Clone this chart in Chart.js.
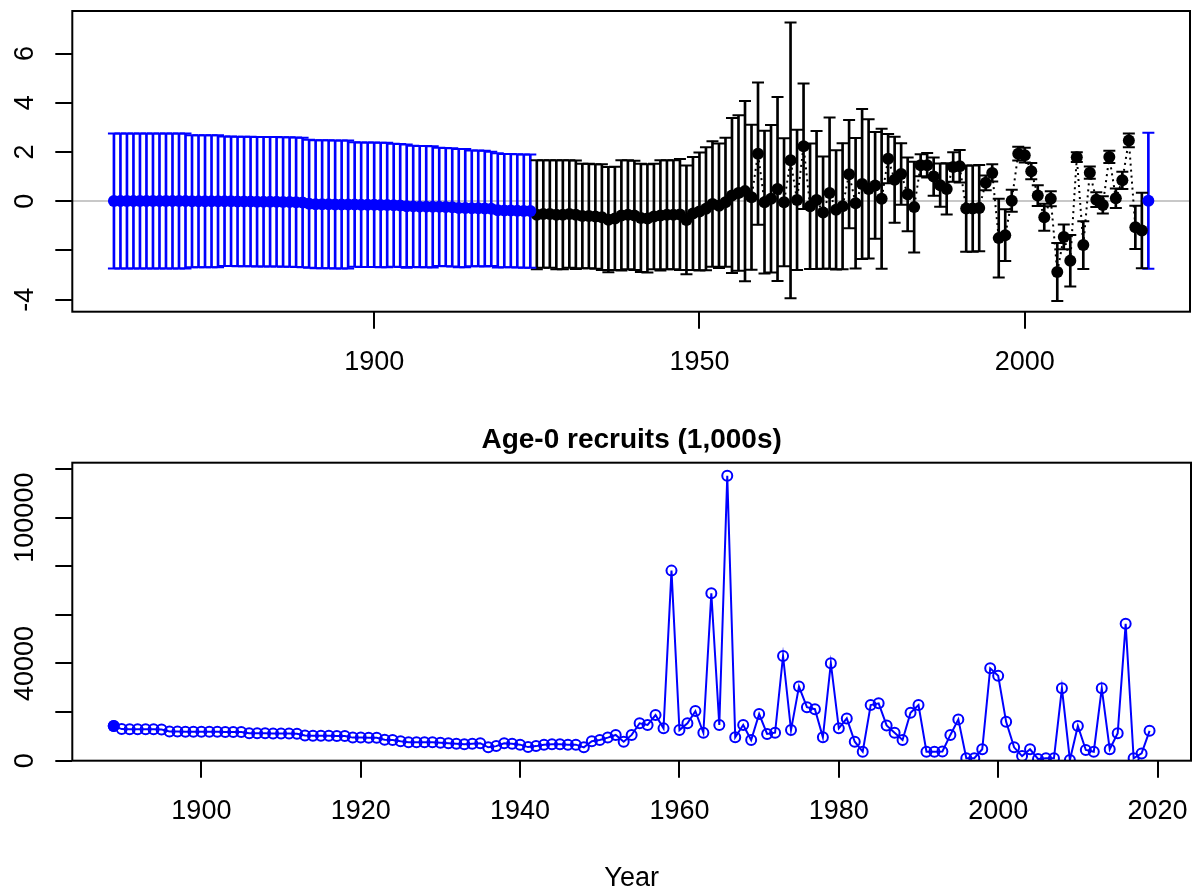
<!DOCTYPE html>
<html>
<head>
<meta charset="utf-8">
<title>Recruitment deviations and age-0 recruits</title>
<script src="https://cdn.jsdelivr.net/npm/chart.js@4.4.1/dist/chart.umd.min.js"></script>
<style>
  html, body { margin: 0; padding: 0; background: #fff; }
  #wrap { position: relative; width: 1198px; height: 892px; }
  #devChart { position: absolute; left: 0; top: 0; }
  #recChart { position: absolute; left: 0; top: 420px; }
</style>
</head>
<body>
<div id="wrap">
  <canvas id="devChart" width="1198" height="420"></canvas>
  <canvas id="recChart" width="1198" height="472"></canvas>
</div>
<script>
// recruitment deviations (top panel)
var earlyFirstYear = 1860;
var earlyDev = [0.01, 0.01, 0.01, 0.01, 0.01, 0.01, 0.01, 0.01, 0.01, 0.01, 0.01, 0.01, 0.0, 0.0, 0.0, 0.0,
  0.0, 0.0, 0.0, -0.01, -0.01, -0.01, -0.02, -0.02, -0.02, -0.02, -0.03, -0.03, -0.04, -0.05,
  -0.1, -0.12, -0.12, -0.12, -0.13, -0.13, -0.13, -0.13, -0.14, -0.14, -0.14, -0.15, -0.15, -0.16, -0.17,
  -0.2, -0.21, -0.22, -0.22, -0.23, -0.23, -0.24, -0.25,
  -0.28, -0.28, -0.29, -0.29, -0.3, -0.31,
  -0.37, -0.38, -0.38, -0.39, -0.4, -0.4];
var earlyHalf = [2.74, 2.74, 2.74, 2.74, 2.74, 2.74, 2.74, 2.74, 2.74, 2.74, 2.74, 2.74,
  2.68, 2.68, 2.68, 2.68, 2.68,
  2.63, 2.63, 2.63, 2.63, 2.63, 2.63, 2.63, 2.63, 2.63, 2.63, 2.63, 2.63, 2.63,
  2.6, 2.6, 2.6, 2.6, 2.6, 2.6, 2.6,
  2.53, 2.53, 2.53, 2.53, 2.53, 2.53,
  2.5, 2.5, 2.5,
  2.46, 2.46, 2.46, 2.46,
  2.4, 2.4, 2.4, 2.4, 2.4,
  2.35, 2.35, 2.35,
  2.32, 2.32,
  2.3, 2.3, 2.3, 2.3, 2.3];

var mainFirstYear = 1925;
var mainDev = [-0.55, -0.52, -0.52, -0.55, -0.55, -0.52, -0.55, -0.6, -0.6, -0.62,
  -0.65, -0.75, -0.7, -0.58, -0.55, -0.58, -0.68, -0.7, -0.62, -0.58,
  -0.55, -0.55, -0.54, -0.76, -0.5, -0.42, -0.31, -0.11, -0.18, -0.04,
  0.23, 0.33, 0.41, 0.16, 1.93, -0.04, 0.1, 0.5, -0.04, 1.66,
  0.05, 2.23, -0.2, 0.05, -0.46, 0.33, -0.35, -0.2, 1.1, -0.08,
  0.7, 0.5, 0.64, 0.1, 1.73, 0.87, 1.11, 0.28, -0.24, 1.46,
  1.46, 1.0, 0.65, 0.5, 1.39, 1.42, -0.3, -0.3, -0.28, 0.75,
  1.15, -1.5, -1.38, 0.02, 1.93, 1.87, 1.22, 0.23, -0.65, 0.1,
  -2.88, -1.45, -2.42, 1.79, -1.78, 1.16, 0.06, -0.15, 1.8, 0.12,
  0.85, 2.47, -1.06, -1.19];
var mainHalf = [2.21, 2.18, 2.18, 2.21, 2.21, 2.18, 2.2, 2.12, 2.12, 2.12,
  2.15, 2.14, 2.1, 2.24, 2.21, 2.22, 2.2, 2.2, 2.14, 2.24,
  2.21, 2.21, 2.26, 2.21, 2.3, 2.4, 2.5, 2.55, 2.53, 2.62,
  3.15, 3.16, 3.66, 2.95, 2.89, 2.9, 3.0, 3.74, 2.6, 5.6,
  2.85, 2.55, 2.55, 2.8, 2.28, 3.07, 2.42, 2.56, 2.2, 2.65,
  3.05, 2.83, 2.17, 2.84, 1.0, 1.75, 1.25, 1.5, 1.84, 0.45,
  0.5, 0.78, 0.88, 1.04, 0.6, 0.66, 1.75, 1.75, 1.75, 0.3,
  0.35, 1.6, 1.05, 0.45, 0.28, 0.3, 0.33, 0.42, 0.55, 0.3,
  1.18, 0.5, 1.05, 0.2, 0.97, 0.25, 0.3, 0.35, 0.25, 0.4,
  0.35, 0.28, 0.88, 1.53];

var fcastFirstYear = 2019;
var fcastDev = [0.02];
var fcastHalf = [2.76];

// age-0 recruits, 1,000s (bottom panel)
var recFirstYear = 1889;
var recruits = [14300,
  13000, 12900, 12900, 12900, 12900, 12800,
  12000, 12000, 11900, 11900, 11900, 11900, 11900, 11800, 11800, 11800,
  11300, 11300, 11300, 11200, 11200, 11200, 11100,
  10400, 10300, 10300, 10300, 10200, 10200,
  9500, 9500, 9400, 9400,
  8600, 8500,
  8000, 7600, 7600, 7600, 7600, 7400, 7200, 7000, 6800, 7000,
  7200, 5500, 6000, 7200, 7000, 6600, 5600, 6000, 6600, 6800,
  6800, 6600, 6600, 5500, 8000, 8500, 9500,
  10600, 7800, 10600, 15400, 14700, 18800, 13300, 78200, 12600, 15400,
  20400, 11500, 68900, 14700, 117200, 9600, 14700, 8500, 19200, 11000,
  11500, 43100, 12600, 30500, 22000, 21200, 9600, 40100, 13300, 17400,
  7800, 3700, 22900, 23600, 14500, 11500,
  8500, 19700, 22900, 3700, 3700, 3800, 10600, 17000, 1000, 1000,
  4700, 38000, 34900, 16000, 5500, 1900, 4700, 700, 1000, 1000,
  29800, 300, 14300, 4400, 3700, 29800, 4700, 11300, 56300, 1000,
  3000, 12300];

// axes
var devTicksX = [1900, 1950, 2000];
var devTicksY = [-4, -2, 0, 2, 4, 6];
var devLabelsY = ['-4', '', '0', '2', '4', '6'];
var recTicksX = [1900, 1920, 1940, 1960, 1980, 2000, 2020];
var recTicksY = [0, 20000, 40000, 60000, 80000, 100000, 120000];
var recLabelsY = ['0', '', '40000', '', '', '100000', ''];

var blue = '#0000ff';
var black = '#000000';

Chart.defaults.font.family = "'Liberation Sans', Arial, sans-serif";
Chart.defaults.color = '#000';

function series(first, vals) {
  return vals.map(function (v, i) { return { x: first + i, y: v }; });
}
function intervals(first, vals, half) {
  return vals.map(function (v, i) { return { x: first + i, y: [v - half[i], v + half[i]] }; });
}
function capEnds(first, vals, half) {
  var out = [];
  vals.forEach(function (v, i) {
    out.push({ x: first + i, y: v + half[i] });
    out.push({ x: first + i, y: v - half[i] });
  });
  return out;
}

var frame = {
  id: 'frame',
  afterDraw: function (chart) {
    var a = chart.chartArea, ctx = chart.ctx;
    ctx.save();
    ctx.strokeStyle = '#000';
    ctx.lineWidth = 2;
    ctx.strokeRect(a.left, a.top, a.right - a.left, a.bottom - a.top);
    ctx.restore();
  }
};

function xAxis(min, max, ticks, height, title) {
  return {
    type: 'linear', min: min, max: max, offset: false,
    afterBuildTicks: function (s) { s.ticks = ticks.map(function (v) { return { value: v }; }); },
    afterFit: function (s) { s.height = height; s.paddingLeft = 0; s.paddingRight = 0; },
    grid: { offset: false, drawOnChartArea: false, drawTicks: true, tickLength: 17, color: '#000', tickColor: '#000', lineWidth: 2 },
    border: { display: false },
    ticks: {
      autoSkip: false, maxRotation: 0, padding: 20.8, color: '#000',
      font: { size: 27, lineHeight: 1 },
      callback: function (v) { return String(v); }
    },
    title: title || { display: false }
  };
}

function yAxis(min, max, ticks, labels, pad, zeroLine) {
  return {
    type: 'linear', min: min, max: max,
    afterBuildTicks: function (s) { s.ticks = ticks.map(function (v) { return { value: v }; }); },
    afterFit: function (s) { s.width = 72.3; s.paddingTop = 0; s.paddingBottom = 0; },
    grid: {
      drawOnChartArea: !!zeroLine, drawTicks: true, tickLength: 17, lineWidth: 2, tickColor: '#000',
      color: function (c) { return zeroLine && c.tick && c.tick.value === 0 ? '#c8c8c8' : 'rgba(0,0,0,0)'; }
    },
    border: { display: false },
    ticks: {
      autoSkip: false, minRotation: 90, maxRotation: 90, crossAlign: 'center', padding: pad, color: '#000',
      font: { size: 27, lineHeight: 1 },
      callback: function (v, i) { return labels[i]; }
    }
  };
}

new Chart(document.getElementById('devChart'), {
  type: 'scatter',
  data: {
    datasets: [
      { type: 'bar', data: intervals(earlyFirstYear, earlyDev, earlyHalf), backgroundColor: blue, borderWidth: 0, barThickness: 2, grouped: false, order: 3 },
      { type: 'bar', data: intervals(mainFirstYear, mainDev, mainHalf), backgroundColor: black, borderWidth: 0, barThickness: 2, grouped: false, order: 3 },
      { type: 'bar', data: intervals(fcastFirstYear, fcastDev, fcastHalf), backgroundColor: blue, borderWidth: 0, barThickness: 2, grouped: false, order: 3 },
      { type: 'scatter', data: capEnds(earlyFirstYear, earlyDev, earlyHalf), pointStyle: 'line', pointRadius: 6, pointBorderColor: blue, pointBorderWidth: 2, order: 2 },
      { type: 'scatter', data: capEnds(mainFirstYear, mainDev, mainHalf), pointStyle: 'line', pointRadius: 6, pointBorderColor: black, pointBorderWidth: 2, order: 2 },
      { type: 'scatter', data: capEnds(fcastFirstYear, fcastDev, fcastHalf), pointStyle: 'line', pointRadius: 6, pointBorderColor: blue, pointBorderWidth: 2, order: 2 },
      { type: 'line', data: series(earlyFirstYear, earlyDev), borderColor: blue, borderWidth: 2, borderDash: [2, 4],
        pointRadius: 6, pointBackgroundColor: blue, pointBorderWidth: 0, order: 1 },
      { type: 'line', data: series(mainFirstYear, mainDev), borderColor: black, borderWidth: 2, borderDash: [2, 4],
        pointRadius: 6, pointBackgroundColor: black, pointBorderWidth: 0, order: 1 },
      { type: 'scatter', data: series(fcastFirstYear, fcastDev), pointRadius: 6, pointBackgroundColor: blue, pointBorderWidth: 0, order: 0 }
    ]
  },
  options: {
    responsive: false,
    animation: false,
    events: [],
    layout: { padding: { left: 0, right: 1.3, top: 11, bottom: 0 } },
    plugins: { legend: { display: false }, tooltip: { enabled: false } },
    scales: {
      x: xAxis(1853.6, 2025.4, devTicksX, 108.3),
      y: yAxis(-4.49, 7.73, devTicksY, devLabelsY, 17.3, true)
    }
  },
  plugins: [frame]
});

new Chart(document.getElementById('recChart'), {
  type: 'scatter',
  data: {
    datasets: [
      { type: 'scatter', data: series(recFirstYear, recruits.slice(0, 1)), pointRadius: 6, pointBackgroundColor: blue, pointBorderWidth: 0, order: 0 },
      { type: 'line', data: series(recFirstYear, recruits), borderColor: blue, borderWidth: 2,
        pointRadius: 5, pointBackgroundColor: 'rgba(0,0,0,0)', pointBorderColor: blue, pointBorderWidth: 2, order: 1 }
    ]
  },
  options: {
    responsive: false,
    animation: false,
    events: [],
    layout: { padding: { left: 0, right: 1.3, top: 0, bottom: 0 } },
    plugins: {
      legend: { display: false },
      tooltip: { enabled: false },
      title: {
        display: true, text: 'Age-0 recruits (1,000s)', fullSize: false, color: '#000',
        font: { size: 28, weight: 'bold', lineHeight: 1 },
        padding: { top: 6.5, bottom: 8.2 }
      }
    },
    scales: {
      x: xAxis(1883.8, 2024.2, recTicksX, 131.3,
        { display: true, text: 'Year', color: '#000', font: { size: 27, lineHeight: 1 }, padding: { top: 0, bottom: 0 } }),
      y: yAxis(0, 122600, recTicksY, recLabelsY, -15.2, false)
    }
  },
  plugins: [frame]
});
</script>
</body>
</html>
